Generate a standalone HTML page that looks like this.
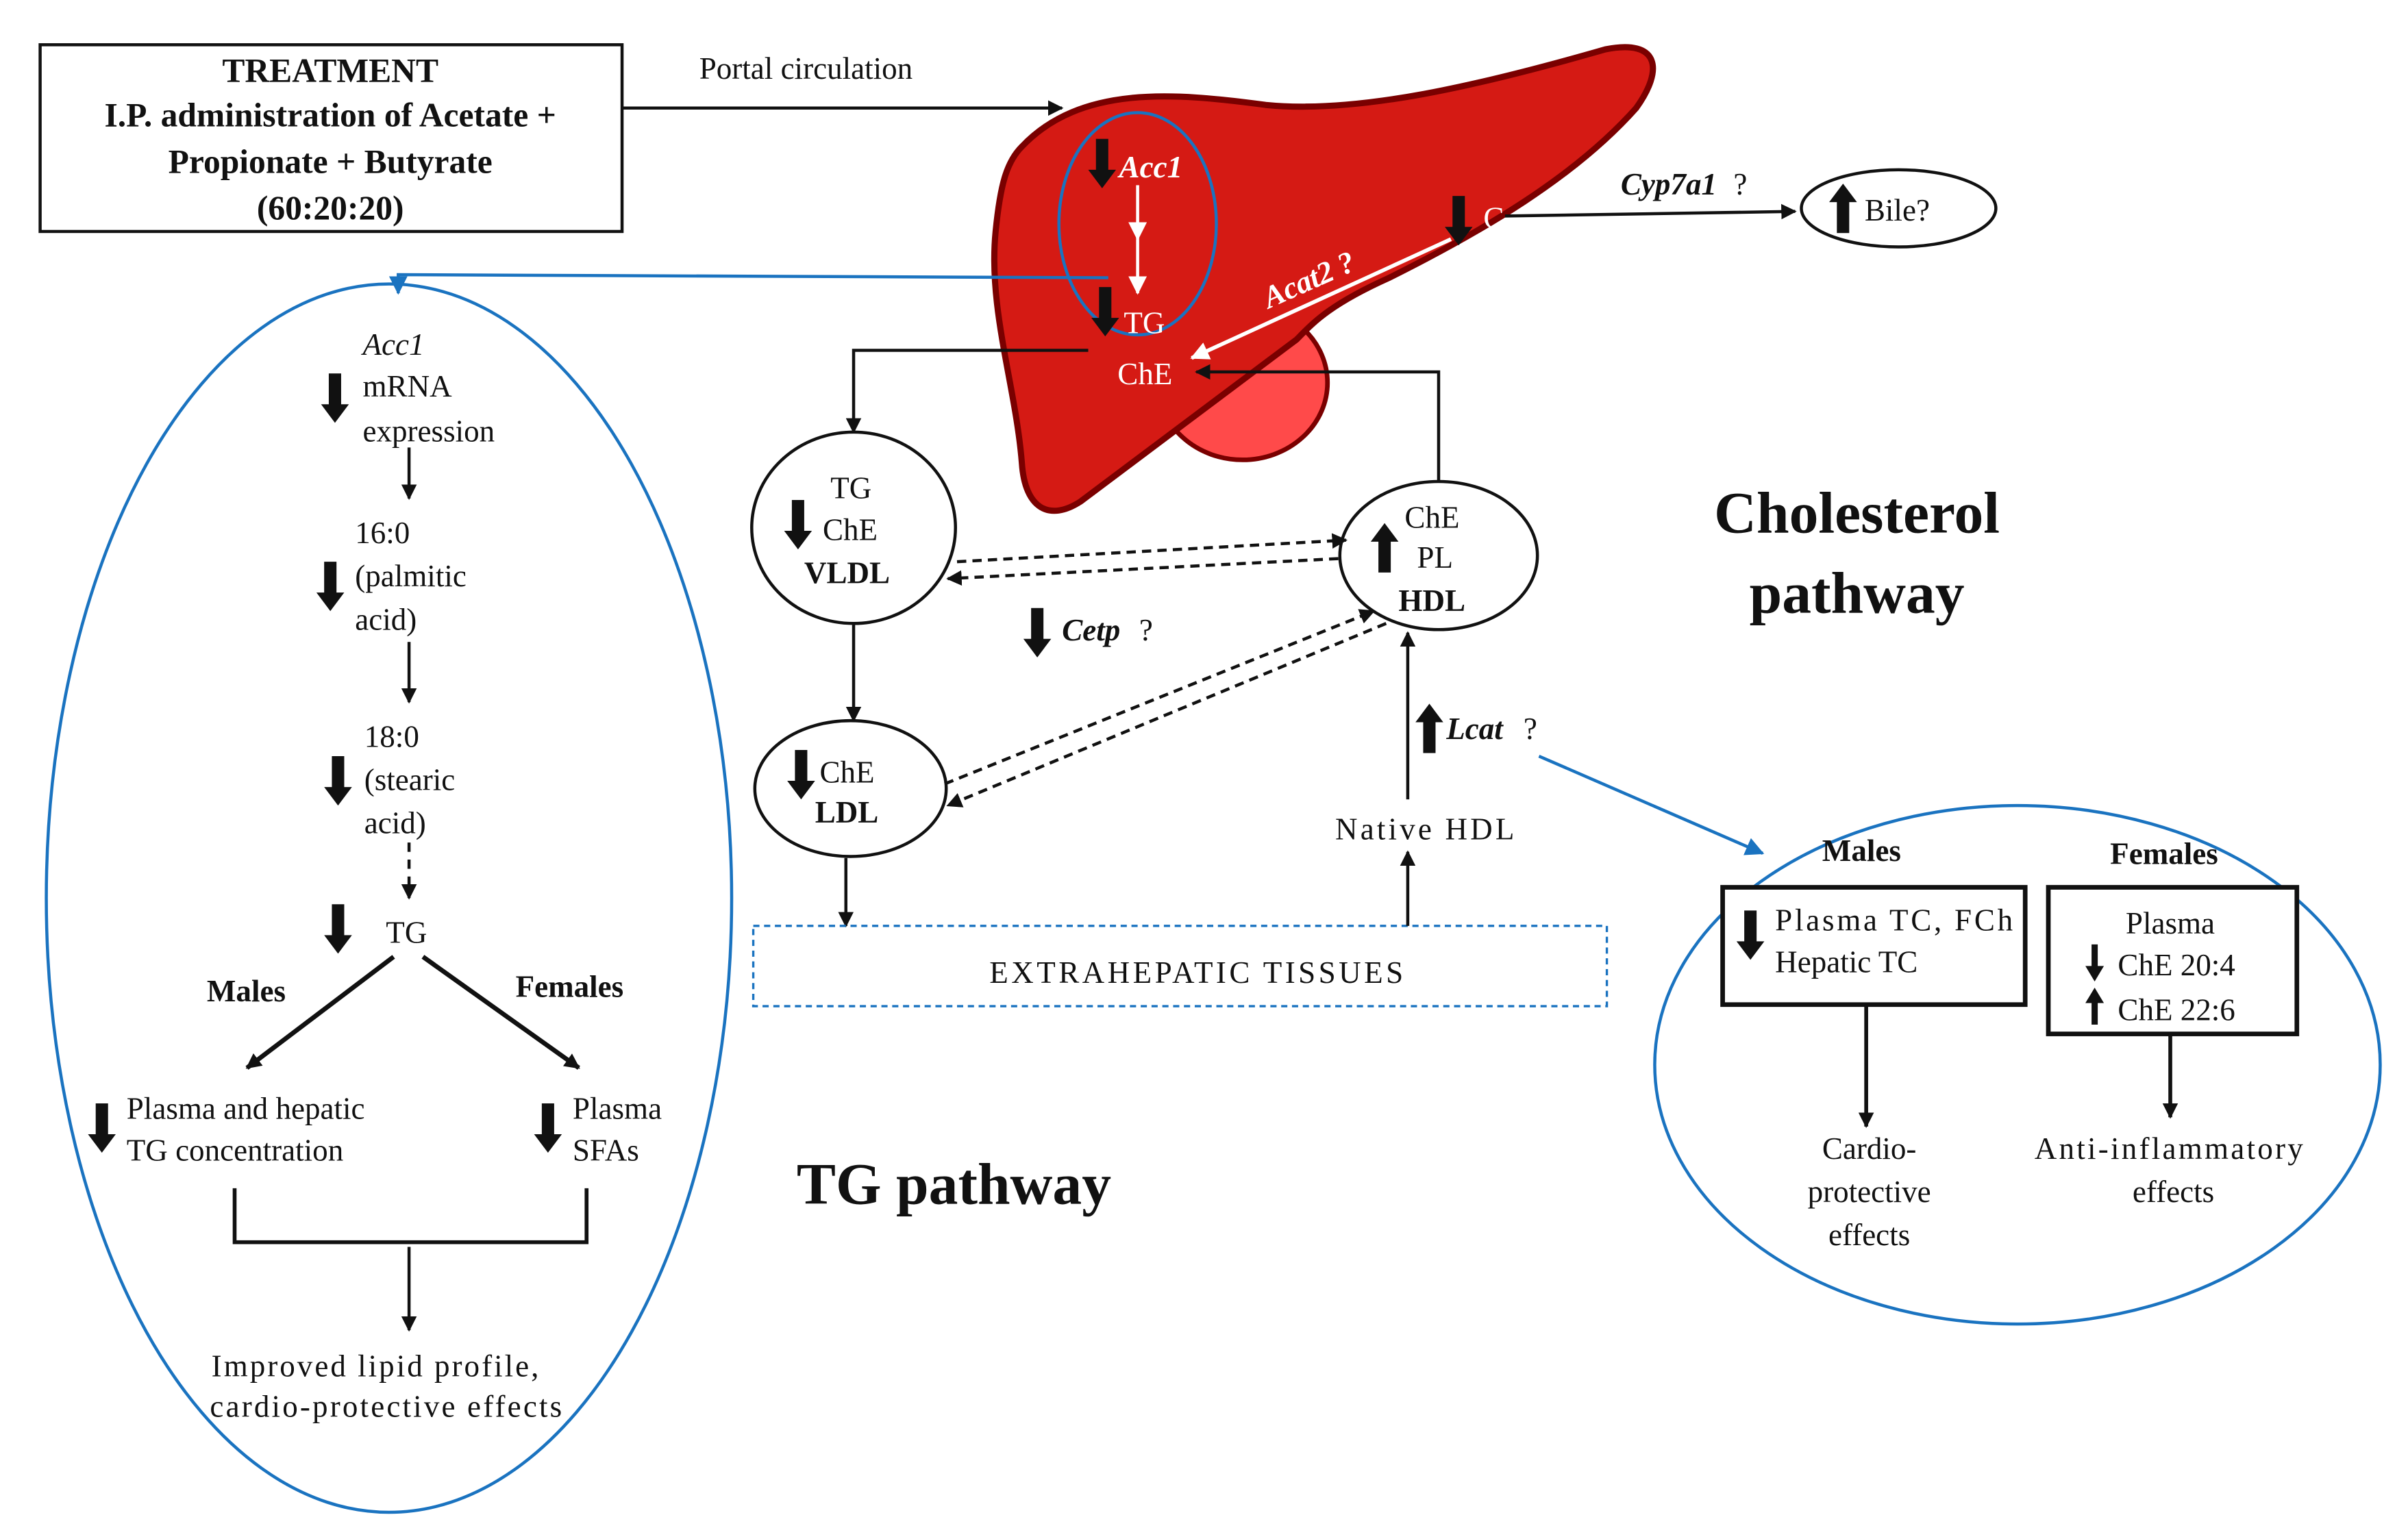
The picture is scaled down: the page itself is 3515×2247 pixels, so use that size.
<!DOCTYPE html>
<html><head><meta charset="utf-8"><style>
html,body{margin:0;padding:0;background:#fff;}
svg{display:block;}
text{font-family:"Liberation Serif","Times New Roman",serif;font-size:20px;fill:#111;}
.w{fill:#fff;}
.b{font-weight:bold;}
.i{font-style:italic;}
</style></head><body>
<svg width="3515" height="2247" viewBox="0 0 1560 997.3" preserveAspectRatio="none" xmlns="http://www.w3.org/2000/svg">
<defs>
<marker id="ah" markerWidth="10" markerHeight="10" refX="9" refY="5" orient="auto" markerUnits="userSpaceOnUse"><path d="M0,0 L10,5 L0,10 z" fill="#111"/></marker>
<marker id="ahw" markerWidth="12" markerHeight="12" refX="11" refY="6" orient="auto" markerUnits="userSpaceOnUse"><path d="M0,0 L12,6 L0,12 z" fill="#fff"/></marker>
<marker id="ahb" markerWidth="12" markerHeight="12" refX="11" refY="6" orient="auto" markerUnits="userSpaceOnUse"><path d="M0,0 L12,6 L0,12 z" fill="#1a73c0"/></marker>
<g id="dn"><path d="M-4,-16 L4,-16 L4,4 L9,4 L0,16 L-9,4 L-4,4 z" fill="#111"/></g>
<g id="up"><path d="M-4,16 L4,16 L4,-4 L9,-4 L0,-16 L-9,-4 L-4,-4 z" fill="#111"/></g>
</defs>

<rect x="26" y="29" width="377" height="121" fill="#fff" stroke="#111" stroke-width="2"/>
<text x="214" y="53" text-anchor="middle" class="b" style="font-size:22px">TREATMENT</text>
<text x="214" y="82" text-anchor="middle" class="b" style="font-size:22px">I.P. administration of Acetate +</text>
<text x="214" y="112" text-anchor="middle" class="b" style="font-size:22px">Propionate + Butyrate</text>
<text x="214" y="142" text-anchor="middle" class="b" style="font-size:22px">(60:20:20)</text>
<text x="453" y="51">Portal circulation</text>
<line x1="403" y1="70" x2="688" y2="70" stroke="#111" stroke-width="2" marker-end="url(#ah)"/>

<ellipse cx="805" cy="248" rx="55" ry="50" fill="#ff4a4a" stroke="#7a0000" stroke-width="3"/>
<path d="M662,95 C700,55 760,60 820,68 C880,74 960,55 1040,32 C1075,25 1078,45 1060,70 C1020,115 960,150 900,180 C860,198 850,210 840,220 C800,250 760,280 700,325 C680,338 664,330 662,300 C658,250 640,200 645,150 C648,120 652,105 662,95 z" fill="#d51a14" stroke="#7a0000" stroke-width="4"/>
<ellipse cx="737" cy="145" rx="51" ry="72" fill="none" stroke="#1a73c0" stroke-width="2"/>
<use href="#dn" x="714" y="106"/>
<text x="725" y="115" class="w b i">Acc1</text>
<line x1="737" y1="120" x2="737" y2="155" stroke="#fff" stroke-width="2" marker-end="url(#ahw)"/>
<line x1="737" y1="155" x2="737" y2="190" stroke="#fff" stroke-width="2" marker-end="url(#ahw)"/>
<use href="#dn" x="716" y="202"/>
<text x="728" y="216" class="w">TG</text>
<text x="724" y="249" class="w">ChE</text>
<use href="#dn" x="945" y="143"/>
<text x="961" y="148" class="w">C</text>
<line x1="940" y1="155" x2="772" y2="232" stroke="#fff" stroke-width="2.5" marker-end="url(#ahw)"/>
<text x="822" y="200" class="w b i" transform="rotate(-24 822 200)">Acat2 ?</text>
<line x1="975" y1="140" x2="1163" y2="137" stroke="#111" stroke-width="2" marker-end="url(#ah)"/>
<text x="1050" y="126" class="b i">Cyp7a1</text><text x="1123" y="126">?</text>
<ellipse cx="1230" cy="135" rx="63" ry="25" fill="#fff" stroke="#111" stroke-width="2"/>
<use href="#up" x="1194" y="135"/>
<text x="1208" y="143">Bile?</text>

<polyline points="718,180 258,178 258,190" fill="none" stroke="#1a73c0" stroke-width="2" marker-end="url(#ahb)"/>

<ellipse cx="252" cy="582" rx="222" ry="398" fill="none" stroke="#1a73c0" stroke-width="2"/>
<text x="235" y="230" class="i">Acc1</text>
<use href="#dn" x="217" y="258"/>
<text x="235" y="257">mRNA</text>
<text x="235" y="286">expression</text>
<line x1="265" y1="290" x2="265" y2="323" stroke="#111" stroke-width="2" marker-end="url(#ah)"/>
<text x="230" y="352">16:0</text>
<use href="#dn" x="214" y="380"/>
<text x="230" y="380">(palmitic</text>
<text x="230" y="408">acid)</text>
<line x1="265" y1="416" x2="265" y2="455" stroke="#111" stroke-width="2" marker-end="url(#ah)"/>
<text x="236" y="484">18:0</text>
<use href="#dn" x="219" y="506"/>
<text x="236" y="512">(stearic</text>
<text x="236" y="540">acid)</text>
<line x1="265" y1="546" x2="265" y2="582" stroke="#111" stroke-width="2" stroke-dasharray="6,5" marker-end="url(#ah)"/>
<use href="#dn" x="219" y="602"/>
<text x="250" y="611">TG</text>
<line x1="255" y1="620" x2="160" y2="692" stroke="#111" stroke-width="3" marker-end="url(#ah)"/>
<line x1="274" y1="620" x2="375" y2="692" stroke="#111" stroke-width="3" marker-end="url(#ah)"/>
<text x="134" y="649" class="b">Males</text>
<text x="334" y="646" class="b">Females</text>
<use href="#dn" x="66" y="731"/>
<text x="82" y="725">Plasma and hepatic</text>
<text x="82" y="752">TG concentration</text>
<use href="#dn" x="355" y="731"/>
<text x="371" y="725">Plasma</text>
<text x="371" y="752">SFAs</text>
<path d="M152,770 L152,805 L380,805 L380,770" fill="none" stroke="#111" stroke-width="2.5"/>
<line x1="265" y1="808" x2="265" y2="862" stroke="#111" stroke-width="2" marker-end="url(#ah)"/>
<text x="243" y="892" text-anchor="middle" textLength="212">Improved lipid profile,</text>
<text x="250" y="918" text-anchor="middle" textLength="228">cardio-protective effects</text>

<polyline points="705,227 553,227 553,280" fill="none" stroke="#111" stroke-width="2" marker-end="url(#ah)"/>
<ellipse cx="553" cy="342" rx="66" ry="62" fill="#fff" stroke="#111" stroke-width="2"/>
<text x="538" y="323">TG</text>
<use href="#dn" x="517" y="340"/>
<text x="533" y="350">ChE</text>
<text x="521" y="378" class="b">VLDL</text>
<line x1="553" y1="405" x2="553" y2="467" stroke="#111" stroke-width="2" marker-end="url(#ah)"/>
<ellipse cx="551" cy="511" rx="62" ry="44" fill="#fff" stroke="#111" stroke-width="2"/>
<use href="#dn" x="519" y="502"/>
<text x="531" y="507">ChE</text>
<text x="528" y="533" class="b">LDL</text>
<line x1="548" y1="556" x2="548" y2="600" stroke="#111" stroke-width="2" marker-end="url(#ah)"/>
<ellipse cx="932" cy="360" rx="64" ry="48" fill="#fff" stroke="#111" stroke-width="2"/>
<use href="#up" x="897" y="355"/>
<text x="910" y="342">ChE</text>
<text x="918" y="368">PL</text>
<text x="906" y="396" class="b">HDL</text>
<polyline points="932,312 932,241 775,241" fill="none" stroke="#111" stroke-width="2" marker-end="url(#ah)"/>
<line x1="620" y1="364" x2="872" y2="350" stroke="#111" stroke-width="2" stroke-dasharray="6,4" marker-end="url(#ah)"/>
<line x1="867" y1="362" x2="614" y2="375" stroke="#111" stroke-width="2" stroke-dasharray="6,4" marker-end="url(#ah)"/>
<line x1="612" y1="508" x2="890" y2="396" stroke="#111" stroke-width="2" stroke-dasharray="6,4" marker-end="url(#ah)"/>
<line x1="898" y1="404" x2="614" y2="522" stroke="#111" stroke-width="2" stroke-dasharray="6,4" marker-end="url(#ah)"/>
<use href="#dn" x="672" y="410"/>
<text x="688" y="415" class="b i">Cetp</text><text x="738" y="415">?</text>
<rect x="488" y="600" width="553" height="52" fill="none" stroke="#1a73c0" stroke-width="1.5" stroke-dasharray="4,3"/>
<text x="775" y="637" text-anchor="middle" textLength="268">EXTRAHEPATIC TISSUES</text>
<line x1="912" y1="600" x2="912" y2="552" stroke="#111" stroke-width="2" marker-end="url(#ah)"/>
<text x="865" y="544" textLength="116">Native HDL</text>
<line x1="912" y1="518" x2="912" y2="410" stroke="#111" stroke-width="2" marker-end="url(#ah)"/>
<use href="#up" x="926" y="472"/>
<text x="937" y="479" class="b i">Lcat</text><text x="987" y="479">?</text>
<line x1="997" y1="490" x2="1142" y2="553" stroke="#1a73c0" stroke-width="2" marker-end="url(#ahb)"/>

<text x="1203" y="345" text-anchor="middle" class="b" style="font-size:38px">Cholesterol</text>
<text x="1203" y="397" text-anchor="middle" class="b" style="font-size:38px">pathway</text>
<text x="618" y="780" text-anchor="middle" class="b" style="font-size:38px">TG pathway</text>

<ellipse cx="1307" cy="690" rx="235" ry="168" fill="none" stroke="#1a73c0" stroke-width="2"/>
<text x="1206" y="558" text-anchor="middle" class="b">Males</text>
<text x="1402" y="560" text-anchor="middle" class="b">Females</text>
<rect x="1116" y="575" width="196" height="76" fill="#fff" stroke="#111" stroke-width="3"/>
<use href="#dn" x="1134" y="606"/>
<text x="1150" y="603" textLength="154">Plasma TC, FCh</text>
<text x="1150" y="630">Hepatic TC</text>
<rect x="1327" y="575" width="161" height="95" fill="#fff" stroke="#111" stroke-width="3"/>
<text x="1406" y="605" text-anchor="middle">Plasma</text>
<path d="M1355,612 L1359,612 L1359,626 L1363,626 L1357,636 L1351,626 L1355,626 z" fill="#111"/>
<text x="1372" y="632">ChE 20:4</text>
<path d="M1355,664 L1359,664 L1359,650 L1363,650 L1357,640 L1351,650 L1355,650 z" fill="#111"/>
<text x="1372" y="661">ChE 22:6</text>
<line x1="1209" y1="651" x2="1209" y2="730" stroke="#111" stroke-width="2.5" marker-end="url(#ah)"/>
<line x1="1406" y1="670" x2="1406" y2="724" stroke="#111" stroke-width="2.5" marker-end="url(#ah)"/>
<text x="1211" y="751" text-anchor="middle">Cardio-</text>
<text x="1211" y="779" text-anchor="middle">protective</text>
<text x="1211" y="807" text-anchor="middle">effects</text>
<text x="1405" y="751" text-anchor="middle" textLength="174">Anti-inflammatory</text>
<text x="1408" y="779" text-anchor="middle">effects</text>
</svg>
</body></html>
